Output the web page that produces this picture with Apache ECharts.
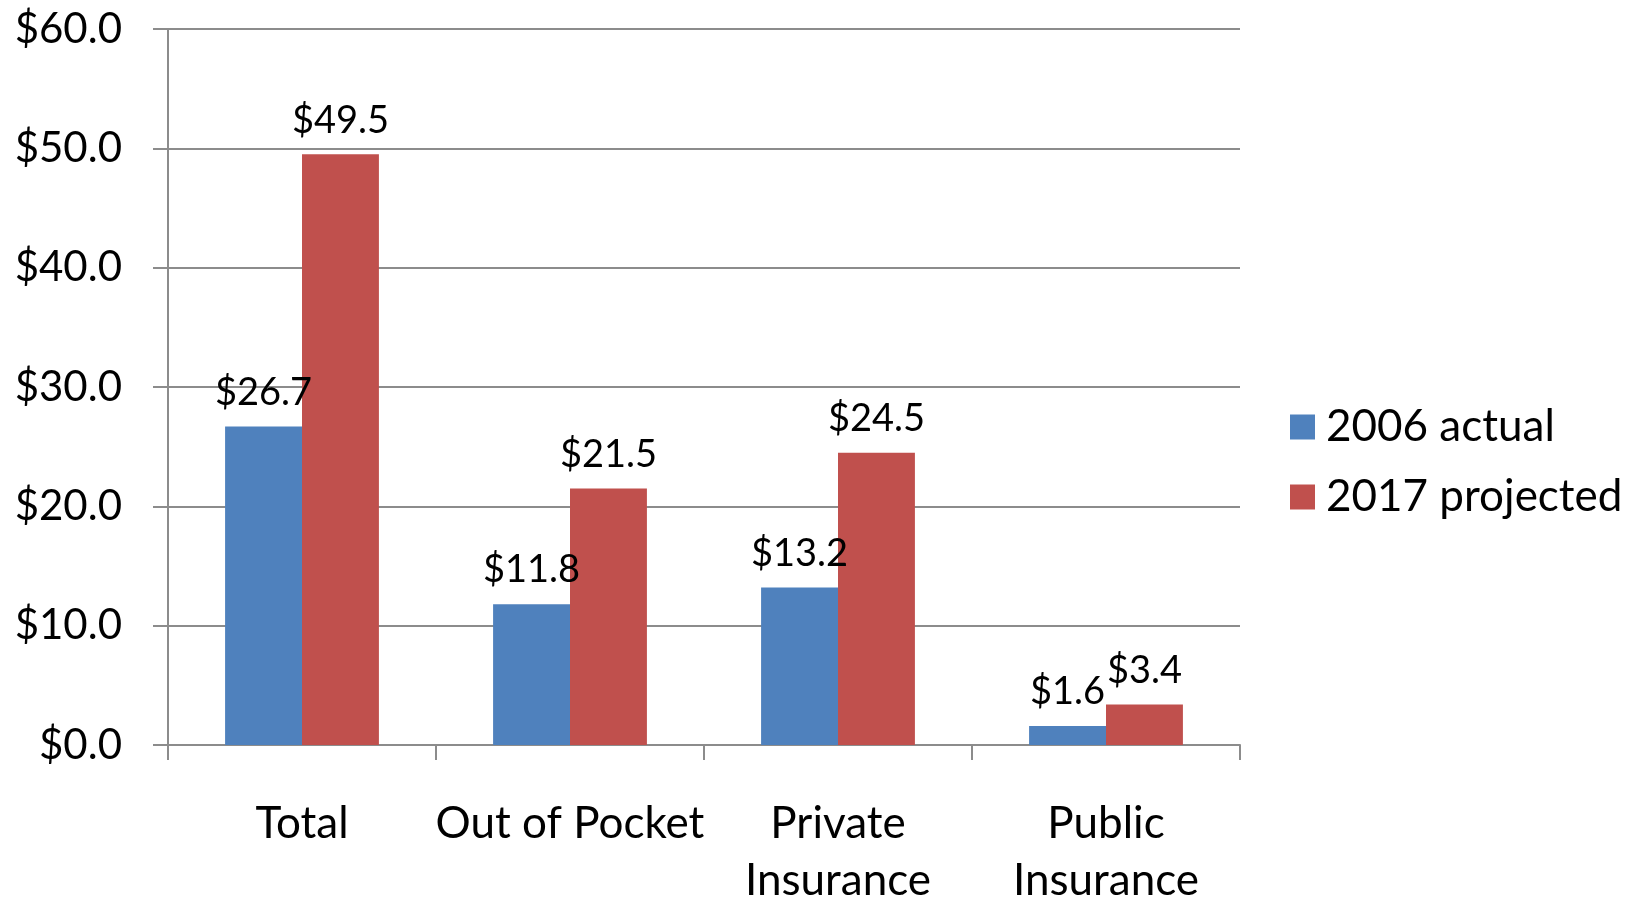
<!DOCTYPE html>
<html>
<head>
<meta charset="utf-8">
<script src="https://cdn.jsdelivr.net/npm/echarts@6/dist/echarts.min.js"></script>
<style>
  html, body { margin: 0; padding: 0; background: #fff; }
  #main { width: 1637px; height: 897px; }
</style>
</head>
<body>
<div id="main"></div>
<script>
// categories and values (billions)
const categories = ["Total", "Out of Pocket", "Private\nInsurance", "Public\nInsurance"];
const actual2006 = [26.7, 11.8, 13.2, 1.6];
const projected2017 = [49.5, 21.5, 24.5, 3.4];
const seriesNames = ["2006 actual", "2017 projected"];

const chart = echarts.init(document.getElementById("main"));
const font = "Lato, 'Open Sans', sans-serif";
const gray = "#8c8c8c";

function money(v) {
  return "$" + Number(v).toFixed(1);
}

const option = {
  animation: false,
  textStyle: { fontFamily: font },
  grid: { left: 168, right: 397, top: 29, bottom: 152, outerBoundsMode: "none", containLabel: false },
  legend: {
    orient: "vertical",
    left: 1285,
    top: 400,
    itemWidth: 25,
    itemHeight: 25,
    itemGap: 26,
    icon: "rect",
    textStyle: { fontSize: 44, color: "#000", fontFamily: font, padding: [0, 0, 0, 6] },
    data: seriesNames
  },
  xAxis: {
    type: "category",
    data: categories,
    axisLine: { lineStyle: { color: gray, width: 2 } },
    axisTick: { show: true, length: 15, interval: 0, lineStyle: { color: gray, width: 2 } },
    axisLabel: { color: "#000", fontSize: 44, interval: 0, margin: 50, lineHeight: 57, fontFamily: font }
  },
  yAxis: {
    type: "value",
    min: 0,
    max: 60,
    interval: 10,
    axisLine: { show: true, lineStyle: { color: gray, width: 2 } },
    axisTick: { show: true, length: 15, lineStyle: { color: gray, width: 2 } },
    splitLine: { lineStyle: { color: gray, width: 2 } },
    axisLabel: { color: "#000", fontSize: 42, margin: 46, formatter: money, fontFamily: font }
  },
  series: [
    {
      name: seriesNames[0],
      type: "bar",
      data: actual2006,
      barWidth: "28.7%",
      barGap: "0%",
      itemStyle: { color: "#4F81BD" },
      label: { show: true, position: "top", distance: 15, fontSize: 38, color: "#000", formatter: p => money(p.value), fontFamily: font }
    },
    {
      name: seriesNames[1],
      type: "bar",
      data: projected2017,
      barWidth: "28.7%",
      barGap: "0%",
      itemStyle: { color: "#C0504D" },
      label: { show: true, position: "top", distance: 15, fontSize: 38, color: "#000", formatter: p => money(p.value), fontFamily: font }
    }
  ]
};

chart.setOption(option);
</script>
</body>
</html>
